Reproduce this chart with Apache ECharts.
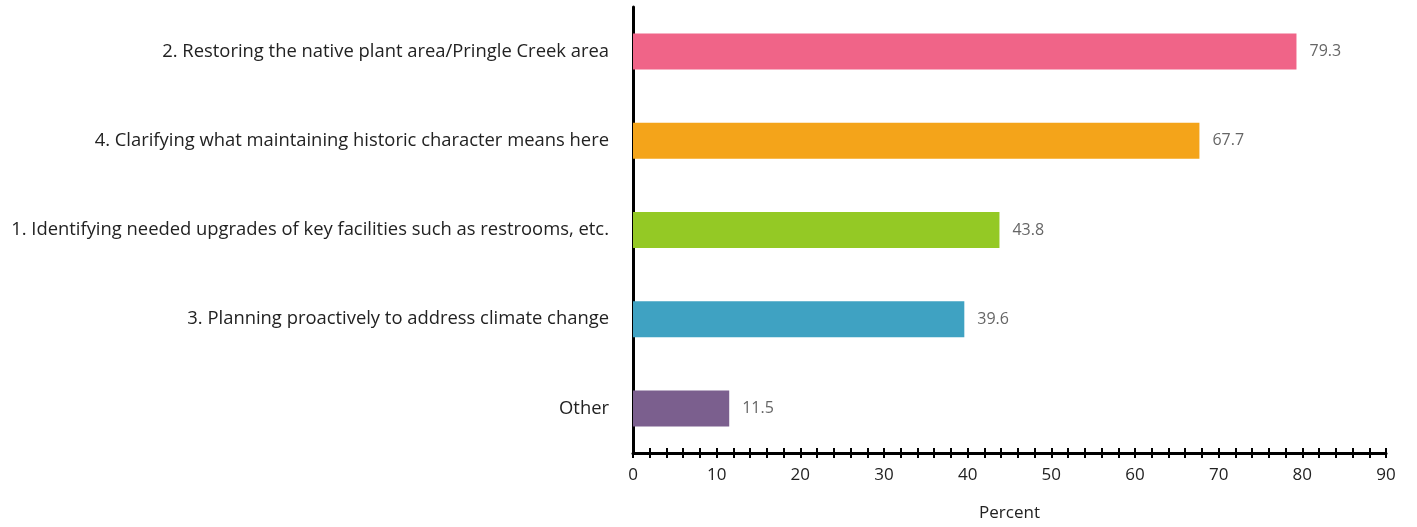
<!DOCTYPE html>
<html>
<head>
<meta charset="utf-8">
<script src="https://cdn.jsdelivr.net/npm/echarts@6/dist/echarts.min.js"></script>
<style>
html,body{margin:0;padding:0;background:#fff;}
#chart{width:1417px;height:527px;}
</style>
</head>
<body>
<div id="chart"></div>
<script>
const categories = [
  "2. Restoring the native plant area/Pringle Creek area",
  "4. Clarifying what maintaining historic character means here",
  "1. Identifying needed upgrades of key facilities such as restrooms, etc.",
  "3. Planning proactively to address climate change",
  "Other"
];
const values = [79.3, 67.7, 43.8, 39.6, 11.5];
const colors = ["#F06488", "#F4A41A", "#94C925", "#3FA2C2", "#7B5F8E"];
const xTicks = [0, 10, 20, 30, 40, 50, 60, 70, 80, 90];

const FONT = "'Open Sans', 'Noto Sans', sans-serif";
const chart = echarts.init(document.getElementById('chart'));
const xMin = xTicks[0], xMax = xTicks[xTicks.length - 1], xInt = xTicks[1] - xTicks[0];
chart.setOption({
  animation: false,
  grid: { left: 633, right: 31, top: 7, bottom: 73, containLabel: false },
  xAxis: [{
    type: 'value', min: xMin, max: xMax, interval: xInt, position: 'bottom',
    name: 'Percent', nameLocation: 'middle', nameGap: 52,
    nameTextStyle: { fontFamily: FONT, fontSize: 17, color: '#222' },
    axisLine: { show: true, lineStyle: { color: '#000', width: 3 } },
    axisTick: { show: true, inside: false, length: 5, lineStyle: { color: '#000', width: 2 } },
    minorTick: { show: true, splitNumber: 5, length: 5, lineStyle: { color: '#000', width: 2 } },
    axisLabel: { fontFamily: FONT, fontSize: 17, color: '#222', margin: 14 },
    splitLine: { show: false }
  }, {
    type: 'value', min: xMin, max: xMax, interval: xInt, position: 'bottom', gridIndex: 0,
    axisLine: { show: false },
    axisTick: { show: true, inside: true, length: 5, lineStyle: { color: '#000', width: 2 } },
    minorTick: { show: true, splitNumber: 5, length: 5, lineStyle: { color: '#000', width: 2 } },
    axisLabel: { show: false },
    splitLine: { show: false }
  }],
  yAxis: {
    type: 'category', data: categories, inverse: true,
    axisLine: { show: true, lineStyle: { color: '#000', width: 3 } },
    axisTick: { show: false },
    axisLabel: { fontFamily: FONT, fontSize: 18.4, color: '#222', margin: 24 }
  },
  series: [{
    type: 'bar', xAxisIndex: 0,
    data: values.map((v, i) => ({ value: v, itemStyle: { color: colors[i] } })),
    barWidth: 36,
    label: { show: true, position: 'right', distance: 13, fontFamily: FONT, fontSize: 16, color: '#666' }
  }]
});
</script>
</body>
</html>
